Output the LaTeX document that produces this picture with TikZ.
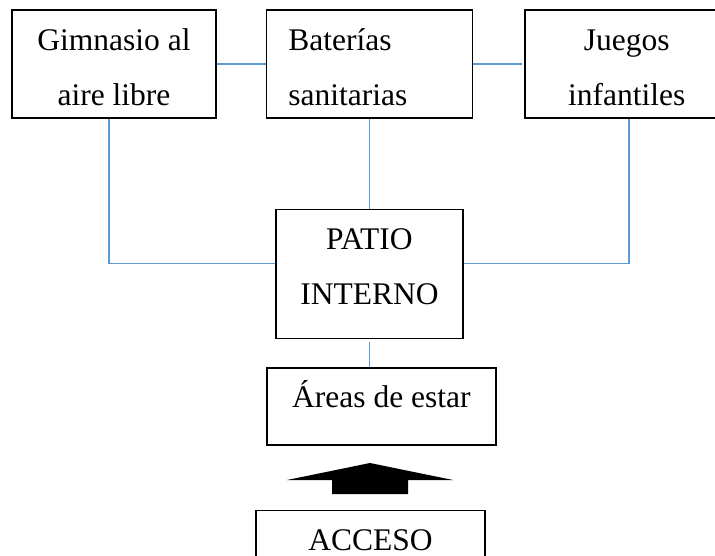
\documentclass[tikz,border=0pt]{standalone}
\usepackage{fontspec}
\setmainfont{Liberation Serif}
\usetikzlibrary{positioning}
\definecolor{linkblue}{RGB}{91,155,213}
\newcommand{\padbelow}[1]{\rule[-#1]{0pt}{#1}}
\newcommand{\padabove}[1]{\raisebox{#1}{\vphantom{Jl}}}

\begin{document}
\begin{tikzpicture}[
  x=0.5pt, y=-0.5pt,
  area/.style  = {rectangle, draw=black, line width=0.7pt, inner sep=0pt,
                  align=center, font=\fontsize{15.75}{27.5}\selectfont},
  topbox/.style= {area, minimum width=102pt, minimum height=54pt},
  hub/.style   = {area, minimum width=93.5pt, minimum height=64.5pt},
  flat/.style  = {area, minimum width=114.5pt, minimum height=38.5pt,
                  text height=11pt, text depth=9.5pt},
  link/.style  = {draw=linkblue, line width=0.7pt},
]
\path[use as bounding box, clip] (0,0) rectangle (715,555);

%% ── Top row ──────────────────────────────────────────────────────────────
\node[topbox] (gim) at (114,64) {\padabove{3.5pt}Gimnasio al\\aire libre};
\node[topbox, minimum width=103pt, text width=81pt, align=left,
      right=24.5pt of gim] (bat) {\padabove{3.5pt}Baterías\\sanitarias};
\node[topbox, right=25.5pt of bat] (jue) {\padabove{3.5pt}Juegos\\infantiles};

%% ── Centre and entrance ──────────────────────────────────────────────────
\node[hub, below=45pt of bat]               (patio)  {PATIO\\INTERNO\padbelow{7pt}};
\node[flat, below=14pt of patio, xshift=6pt] (areas)  {Áreas de estar};
\node[flat, below=32pt of areas, xshift=-5.5pt] (acceso) {ACCESO};

%% ── Connectors ───────────────────────────────────────────────────────────
\draw[link] (gim.east) -- (bat.west);
\draw[link] (bat.east) -- ([xshift=-1pt]jue.west);
\draw[link] ([xshift=-2.5pt]gim.south) |- ([yshift=5.25pt]patio.west);
\draw[link] (bat.south) -- (bat.south |- patio.north);
\draw[link] ([yshift=5.25pt]patio.east) -| ([xshift=1pt]jue.south);
\draw[link] ([yshift=-1.5pt]patio.south) -- (patio.south |- areas.north);

%% ── Entrance arrow ───────────────────────────────────────────────────────
\fill (287,480) -- (370,463) -- (453,480) -- (408,480) -- (408,494)
      -- (332,494) -- (332,480) -- cycle;

\end{tikzpicture}
\end{document}
